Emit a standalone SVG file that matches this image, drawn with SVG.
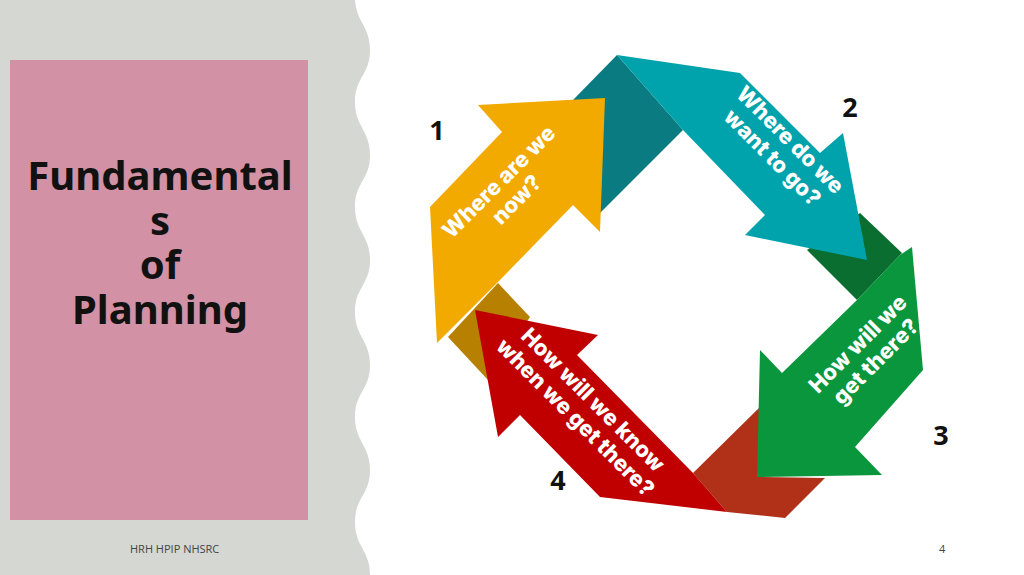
<svg xmlns="http://www.w3.org/2000/svg" width="1024" height="575" viewBox="0 0 1024 575">
<style>
.t{font-family:Inter,"Open Sans",sans-serif;font-weight:800;fill:#fff;font-size:22px;text-anchor:middle}
.n{font-family:"Open Sans","Noto Sans",sans-serif;font-weight:700;fill:#111;font-size:27px;text-anchor:middle}
.h{font-family:"Noto Sans","Open Sans",sans-serif;font-weight:700;fill:#111;font-size:40px;text-anchor:middle}
.f{font-family:"Open Sans",sans-serif;fill:#444;font-size:11px}
</style>
<rect width="1024" height="575" fill="#fff"/>
<path d="M0,0 L355,-3 C355,22 370,25 370,50 C370,75 355,77 355,102 C355,127 370,130 370,155 C370,180 355,182 355,207 C355,232 370,235 370,260 C370,285 355,287 355,312 C355,337 370,340 370,365 C370,390 355,392 355,417 C355,442 370,445 370,470 C370,495 355,497 355,522 C355,547 370,550 370,575 L0,575 Z" fill="#d4d7d2"/>
<rect x="10" y="60" width="298" height="460" fill="#d291a5"/>
<g id="title">
<text class="h" x="160" y="190">Fundamental</text>
<text class="h" x="160" y="235">s</text>
<text class="h" x="160" y="279">of</text>
<text class="h" x="160" y="324">Planning</text>
</g>
<g id="connectors">
<polygon points="498,283 530,317 488,380 448,337" fill="#b88000"/>
<polygon points="573,100 617,55 683,130 600,213" fill="#0a7b80"/>
<polygon points="807,250 860,213 902,253 857,300" fill="#0a6e30"/>
<polygon points="693,473 760,407 758,477 825,478 785,518 727,512" fill="#b03018"/>
</g>
<g id="node1">
<polygon points="437,343 430,207 502,132 478,105 605,98 600,232 573,205 498,282 460,320" fill="#f2a900"/>
<text class="t" transform="translate(507,190) rotate(-45)"><tspan x="0" y="-4">Where are we</tspan><tspan x="0" y="21">now?</tspan></text>
</g>
<g id="node2">
<polygon points="617,55 740,73 820,153 843,133 867,260 745,235 765,215 683,130" fill="#00a3ac"/>
<text class="t" transform="translate(782,148) rotate(45)"><tspan x="0" y="-4">Where do we</tspan><tspan x="0" y="21">want to go?</tspan></text>
</g>
<g id="node3">
<polygon points="912,247 923,370 855,447 882,475 757,477 760,350 782,373 857,300 900,255" fill="#0a963c"/>
<text class="t" transform="translate(866,352) rotate(-45)"><tspan x="0" y="-4">How will we</tspan><tspan x="0" y="21">get there?</tspan></text>
</g>
<g id="node4">
<polygon points="727,512 600,497 520,415 498,437 475,310 598,335 577,355 693,473" fill="#c00000"/>
<text class="t" transform="translate(585,408) rotate(45)"><tspan x="0" y="-4">How will we know</tspan><tspan x="0" y="21">when we get there?</tspan></text>
</g>
<text class="n" x="437" y="140">1</text>
<text class="n" x="850" y="117">2</text>
<text class="n" x="941" y="445">3</text>
<text class="n" x="558" y="490">4</text>
<text class="f" x="130" y="553">HRH HPIP NHSRC</text>
<text class="f" x="939" y="553">4</text>
</svg>
